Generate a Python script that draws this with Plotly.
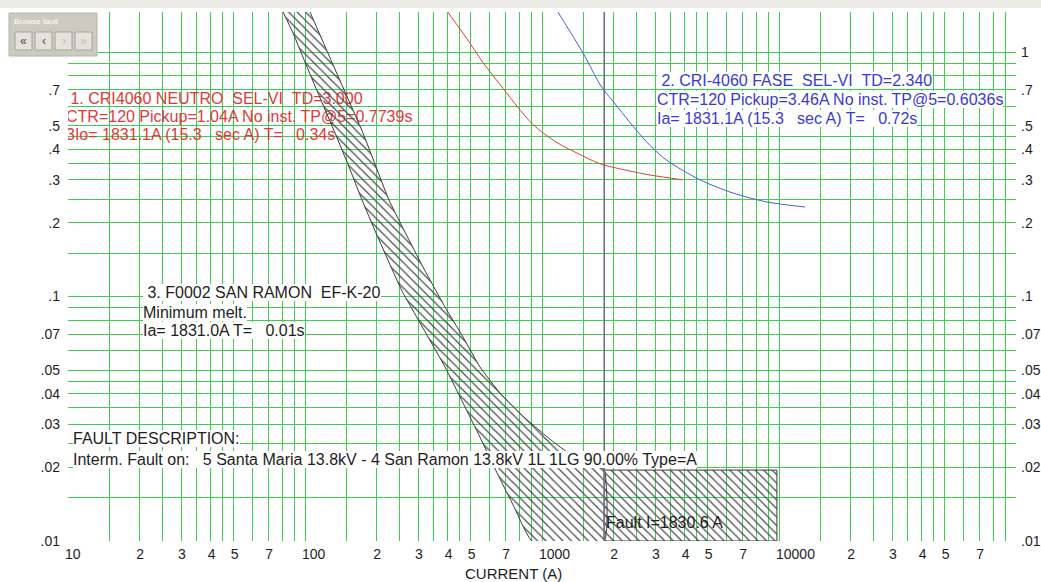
import math
import plotly.graph_objects as go

# ---------------- data ----------------
# 1. CRI4060 NEUTRO relay curve (red)
red_current = [392, 483, 564, 685, 785, 916, 1157, 1405, 1756, 2284, 2856, 3934]
red_time = [1.50, 1.13, 0.905, 0.71, 0.60, 0.505, 0.426, 0.386, 0.349, 0.328, 0.314, 0.300]

# 2. CRI-4060 FASE relay curve (blue)
blue_current = [1160, 1489, 1774, 2073, 2421, 2856, 3369, 4642, 6396, 8900, 12877]
blue_time = [1.47, 0.991, 0.726, 0.600, 0.497, 0.415, 0.360, 0.300, 0.265, 0.2435, 0.2323]

# 3. F0002 SAN RAMON EF-K-20 fuse: minimum melt and total clearing boundaries
fuse_mm_current = [70, 80.8, 89.0, 102.0, 116.8, 133.9, 153.4, 174.0, 199.3, 230.6, 259.2, 280.1,
                   330.4, 389.7, 464.2, 547.4, 645.9, 761.9, 907.7]
fuse_mm_time = [2.0, 1.458, 1.196, 0.868, 0.636, 0.466, 0.3385, 0.248, 0.182, 0.132, 0.1033, 0.0906,
                0.0683, 0.0515, 0.0367, 0.0266, 0.0190, 0.0138, 0.0100]
fuse_tc_current = [92, 105.0, 132.6, 175.7, 226.2, 314.7, 389.7, 464.2, 547.4, 665.0, 839.5, 1091,
                   1326, 1594, 1830.6]
fuse_tc_time = [2.0, 1.458, 0.868, 0.466, 0.248, 0.132, 0.0906, 0.0683, 0.0515, 0.0403, 0.0321,
                0.0259, 0.0225, 0.0205, 0.0195]

# fault
fault_current = 1830.6
fault_box_current = [1830.6, 9800]
fault_box_time = [0.01, 0.0195]

# axis grid / labels
grid_mantissas = [1, 1.5, 2, 2.5, 3, 3.5, 4, 4.5, 5, 6, 7, 8, 9]
x_decades = [10, 100, 1000, 10000]
x_labelled_digits = {2: "2", 3: "3", 4: "4", 5: "5", 7: "7"}
y_decades = [0.01, 0.1]
y_labels = {0.01: ".01", 0.02: ".02", 0.03: ".03", 0.04: ".04", 0.05: ".05", 0.07: ".07",
            0.1: ".1", 0.2: ".2", 0.3: ".3", 0.4: ".4", 0.5: ".5", 0.7: ".7", 1.0: "1"}

# ---------------- layout geometry (pixels) ----------------
W, H = 1041, 582
PL, PR, PT, PB = 68, 1016, 12, 541
X_LOG_MIN, X_LOG_MAX = 1, 5
Y_LOG_MIN = -2
Y_LOG_MAX = Y_LOG_MIN + (PB - PT) / 244.5


def pxx(x):
    return (x - PL) / (PR - PL)


def pxy(y):
    return (PB - y) / (PB - PT)


def dat_x(x):
    return 10 ** (X_LOG_MIN + (x - PL) / (PR - PL) * (X_LOG_MAX - X_LOG_MIN))


def dat_y(y):
    return 10 ** (Y_LOG_MIN + (PB - y) / (PB - PT) * (Y_LOG_MAX - Y_LOG_MIN))


# ticks
x_tickvals, x_ticktext = [], []
for d in x_decades:
    for m in grid_mantissas:
        x_tickvals.append(d * m)
        if m == 1:
            x_ticktext.append(str(d))
        else:
            x_ticktext.append(x_labelled_digits.get(m, ""))
x_tickvals.append(100000)
x_ticktext.append("")

y_tickvals, y_ticktext_left, y_ticktext_right = [], [], []
for d in y_decades:
    for m in grid_mantissas:
        v = round(d * m, 6)
        y_tickvals.append(v)
        lab = y_labels.get(v, "")
        y_ticktext_left.append(lab)
        y_ticktext_right.append(lab)
y_tickvals.append(1.0)
y_ticktext_left.append("")      # hidden behind the browse widget
y_ticktext_right.append("1")

GRID = "#3fcc50"
TEXT_FONT = "Liberation Sans, Arial"
TEXT_SIZE = 16
TICK_FONT = "Liberation Sans, Arial"
NB = "\u00a0"

fig = go.Figure()

# red text block (drawn under the fuse band): white background boxes + text trace
red_rows_y = [100, 118, 136]
red_rows_end = [369, 417, 350]
red_lines = [
    NB + "1. CRI4060 NEUTRO" + NB * 2 + "SEL-VI" + NB * 2 + "TD=3.000",
    "CTR=120 Pickup=1.04A No inst. TP@5=0.7739s",
    "3Io= 1831.1A (15.3" + NB * 3 + "sec A) T=" + NB * 3 + "0.34s",
]
shapes = []
for yy, xe in zip(red_rows_y, red_rows_end):
    shapes.append(dict(type="rect", xref="paper", yref="paper", layer="between",
                       x0=pxx(65), x1=pxx(xe), y0=pxy(yy + 9), y1=pxy(yy - 9),
                       fillcolor="white", line=dict(width=0)))

fig.add_trace(go.Scatter(
    x=[dat_x(66)] * 3, y=[dat_y(v) for v in red_rows_y], mode="text", text=red_lines,
    textposition="middle right", textfont=dict(family=TEXT_FONT, size=TEXT_SIZE, color="#e0393b"),
    hoverinfo="skip", showlegend=False))

HATCH = dict(shape="\\", size=6, solidity=0.2, fgcolor="#4a4a4a",
             bgcolor="rgba(0,0,0,0)", fillmode="replace")

# fuse band
band_x = fuse_mm_current + [fault_current] + fuse_tc_current[::-1]
band_y = fuse_mm_time + [fault_box_time[0]] + fuse_tc_time[::-1]
fig.add_trace(go.Scatter(
    x=band_x, y=band_y, mode="lines", fill="toself", fillcolor="rgba(0,0,0,0)",
    fillpattern=HATCH, line=dict(color="#3a3a3a", width=1, shape="spline", smoothing=0.4),
    hoverinfo="skip", showlegend=False))

# fault box
bx = [fault_box_current[0], fault_box_current[1], fault_box_current[1], fault_box_current[0], fault_box_current[0]]
by = [fault_box_time[0], fault_box_time[0], fault_box_time[1], fault_box_time[1], fault_box_time[0]]
fig.add_trace(go.Scatter(
    x=bx, y=by, mode="lines", fill="toself", fillcolor="rgba(0,0,0,0)",
    fillpattern=HATCH, line=dict(color="#3a3a3a", width=1), hoverinfo="skip", showlegend=False))

# fault current vertical line
fig.add_trace(go.Scatter(
    x=[fault_current, fault_current], y=[fault_box_time[0], dat_y(PT)], mode="lines",
    line=dict(color="#6c7282", width=1.6), hoverinfo="skip", showlegend=False))

# relay curves
fig.add_trace(go.Scatter(x=red_current, y=red_time, mode="lines",
                         line=dict(color="#d9403a", width=1, shape="spline", smoothing=0.8),
                         hoverinfo="skip", showlegend=False))
fig.add_trace(go.Scatter(x=blue_current, y=blue_time, mode="lines", yaxis="y2",
                         line=dict(color="#4a5fd0", width=1, shape="spline", smoothing=0.8),
                         hoverinfo="skip", showlegend=False))

# annotations (texts with white background, drawn on top)
annotations = []


def add_line(text, x_left, y_center, color, size=TEXT_SIZE, family=TEXT_FONT, bg="white"):
    annotations.append(dict(
        text=text, x=pxx(x_left), y=pxy(y_center), xref="paper", yref="paper",
        xanchor="left", yanchor="middle", showarrow=False, align="left",
        font=dict(family=family, size=size, color=color),
        bgcolor=bg, borderpad=0, borderwidth=0))


blue_color = "#3a3ad2"
add_line(NB + "2. CRI-4060 FASE" + NB * 2 + "SEL-VI" + NB * 2 + "TD=2.340", 657, 80, blue_color)
add_line("CTR=120 Pickup=3.46A No inst. TP@5=0.6036s", 657, 99, blue_color)
add_line("Ia= 1831.1A (15.3" + NB * 3 + "sec A) T=" + NB * 3 + "0.72s", 657, 118, blue_color)

blk = "#1e1e1e"
add_line(NB + "3. F0002 SAN RAMON" + NB * 2 + "EF-K-20", 143, 292, blk)
add_line("Minimum melt.", 143, 312, blk)
add_line("Ia= 1831.0A T=" + NB * 3 + "0.01s", 143, 330, blk)

add_line("FAULT DESCRIPTION:", 73, 439, blk)
add_line("Interm. Fault on:" + NB * 3 + "5 Santa Maria 13.8kV - 4 San Ramon 13.8kV 1L 1LG 90.00% Type=A",
         73, 459, blk)

add_line("Fault I=1830.6 A", 606, 522, blk, bg="rgba(0,0,0,0)")

# axis title
annotations.append(dict(text="CURRENT (A)", x=pxx(513), y=pxy(573), xref="paper", yref="paper",
                        xanchor="center", yanchor="middle", showarrow=False,
                        font=dict(family=TICK_FONT, size=15, color="#1e1e1e")))

# window chrome: top strip and "Browse fault" widget
shapes.append(dict(type="rect", xref="paper", yref="paper", layer="above",
                   x0=pxx(0), x1=pxx(W), y0=pxy(8), y1=pxy(0),
                   fillcolor="#ecebe6", line=dict(width=0)))
shapes.append(dict(type="rect", xref="paper", yref="paper", layer="above",
                   x0=pxx(9), x1=pxx(97), y0=pxy(56), y1=pxy(13),
                   fillcolor="#cbcbc1", line=dict(color="#b5b5ab", width=1)))
btn_x = [15, 35, 55, 75]
btn_lab = ["\u00ab", "\u2039", "\u203a", "\u00bb"]
btn_col = ["#4a4a4a", "#4a4a4a", "#bdbdb5", "#bdbdb5"]
for bx0, lab, col in zip(btn_x, btn_lab, btn_col):
    shapes.append(dict(type="rect", xref="paper", yref="paper", layer="above",
                       x0=pxx(bx0), x1=pxx(bx0 + 17), y0=pxy(50), y1=pxy(32),
                       fillcolor="#e3e3dc", line=dict(color="#a4a49c", width=1)))
    annotations.append(dict(text=lab, x=pxx(bx0 + 8.5), y=pxy(41), xref="paper", yref="paper",
                            xanchor="center", yanchor="middle", showarrow=False,
                            font=dict(family=TICK_FONT, size=12, color=col)))
annotations.append(dict(text="Browse fault", x=pxx(12), y=pxy(21), xref="paper", yref="paper",
                        xanchor="left", yanchor="middle", showarrow=False,
                        font=dict(family=TICK_FONT, size=8, color="white")))

fig.update_layout(
    width=W, height=H,
    margin=dict(l=PL, r=W - PR, t=PT, b=H - PB, pad=0, autoexpand=False),
    paper_bgcolor="white", plot_bgcolor="white",
    showlegend=False,
    xaxis=dict(type="log", range=[X_LOG_MIN, X_LOG_MAX], tickmode="array", automargin=False,
               tickvals=x_tickvals, ticktext=x_ticktext, showgrid=True, gridcolor=GRID,
               gridwidth=1, zeroline=False, showline=False, ticks="",
               ticklabelposition="outside right", ticklabelstandoff=3, ticklabelshift=-3,
               tickfont=dict(family=TICK_FONT, size=14, color="#1e1e1e"), fixedrange=True),
    yaxis=dict(type="log", range=[Y_LOG_MIN, Y_LOG_MAX], tickmode="array", automargin=False,
               tickvals=y_tickvals, ticktext=y_ticktext_left, showgrid=True, gridcolor=GRID,
               gridwidth=1, zeroline=False, showline=False, ticks="", ticklabelstandoff=7,
               tickfont=dict(family=TICK_FONT, size=14, color="#1e1e1e"), fixedrange=True),
    yaxis2=dict(type="log", range=[Y_LOG_MIN, Y_LOG_MAX], overlaying="y", side="right",
                automargin=False,
                tickmode="array", tickvals=y_tickvals, ticktext=y_ticktext_right,
                showgrid=False, zeroline=False, showline=False, ticks="", ticklabelstandoff=4,
                tickfont=dict(family=TICK_FONT, size=14, color="#1e1e1e"), fixedrange=True),
    shapes=shapes,
    annotations=annotations,
)

fig.write_html("out.html", config={"displayModeBar": False},
               post_script="document.body.style.margin='0px';document.body.style.overflow='hidden';")
